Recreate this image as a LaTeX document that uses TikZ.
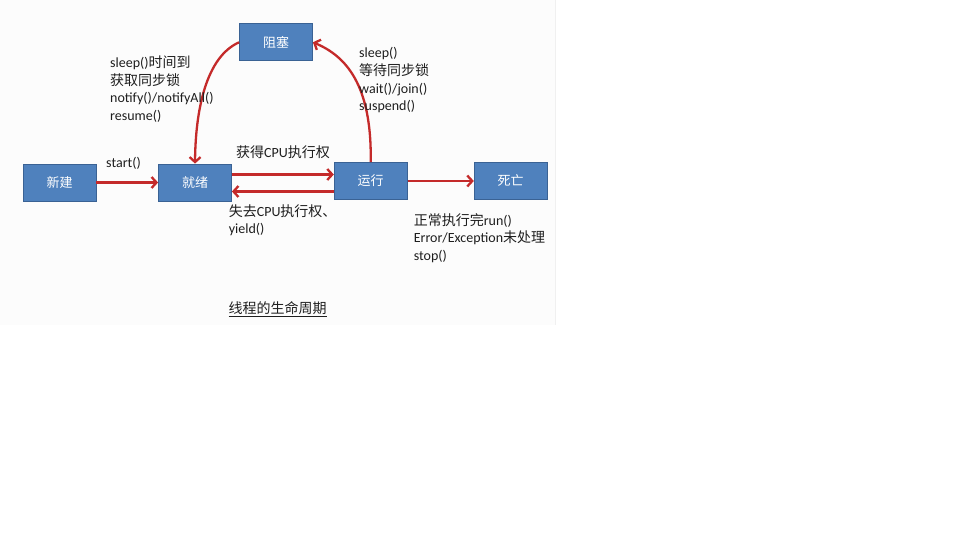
\documentclass[tikz,border=0pt]{standalone}
\usepackage{fontspec}
\setmainfont{Carlito}
\newfontfamily\cjk{Noto Sans CJK SC}
\usepackage{xcolor}
\usetikzlibrary{arrows.meta}
\definecolor{boxblue}{HTML}{4F81BD}
\definecolor{boxline}{HTML}{3A6294}
\definecolor{arrred}{HTML}{C42A2A}
\definecolor{inktext}{HTML}{1E1E1E}
\tikzset{
  sbox/.style={draw=boxline,line width=0.8pt,fill=boxblue,text=white,minimum width=73pt,minimum height=37pt,inner sep=0pt,font=\cjk\fontsize{13}{15}\selectfont},
  sarr/.style={-{Straight Barb[length=5pt,width=11pt]},line width=2.3pt,draw=arrred},
  stext/.style={anchor=west,align=left,inner sep=0pt,text=inktext}
}

\begin{document}
\begin{tikzpicture}[x=1pt,y=-1pt,font=\fontsize{14}{17.7}\selectfont]
  \useasboundingbox (0,0) rectangle (960,540);
  % slide area of the screenshot
  \fill[gray!2] (0,0) rectangle (555,325);
  \draw[gray!12] (555,0) -- (555,325);
  % states
  \node[sbox] (xj) at (59.5,182.5) {新建};
  \node[sbox] (jx) at (195,182.5) {就绪};
  \node[sbox] (zs) at (276,42.3) {阻塞};
  \node[sbox] (yx) at (370.7,181) {运行};
  \node[sbox] (sw) at (510.7,180.7) {死亡};
  % transitions
  \draw[sarr] (xj.east) -- (xj.east -| jx.west);
  \draw[sarr] ([yshift=8pt]jx.east) -- ([yshift=8pt]jx.east -| yx.west);
  \draw[sarr] ([yshift=-10.5pt]yx.west) -- ([yshift=-10.5pt]yx.west -| jx.east);
  \draw[sarr] (yx.east) -- (yx.east -| sw.west);
  \draw[sarr] (zs.west) .. controls (206,57) and (195.5,110) .. (jx.north);
  \draw[sarr] (yx.north) .. controls (372,85) and (346,56) .. (zs.east);
  % labels
  \node[stext] (lblwake) at (110,89.2) {sleep(){\cjk 时间到}\\{\cjk 获取同步锁}\\notify()/notifyAll()\\resume()};
  \node[stext] (lblblock) at (359,80.4) {sleep()\\{\cjk 等待同步锁}\\wait()/join()\\suspend()};
  \node[stext] (lblstart) at (106,163.3) {start()};
  \node[stext] (lblget) at (236,152.7) {{\cjk 获得}CPU{\cjk 执行权}};
  \node[stext] (lbllose) at (228.6,220.3) {{\cjk 失去}CPU{\cjk 执行权、}\\yield()};
  \node[stext] (lblend) at (413.6,238) {{\cjk 正常执行完}run()\\Error/Exception{\cjk 未处理}\\stop()};
  \node[stext,anchor=center] (title) at (277.5,309) {\cjk\underline{线程的生命周期}};
\end{tikzpicture}
\end{document}
